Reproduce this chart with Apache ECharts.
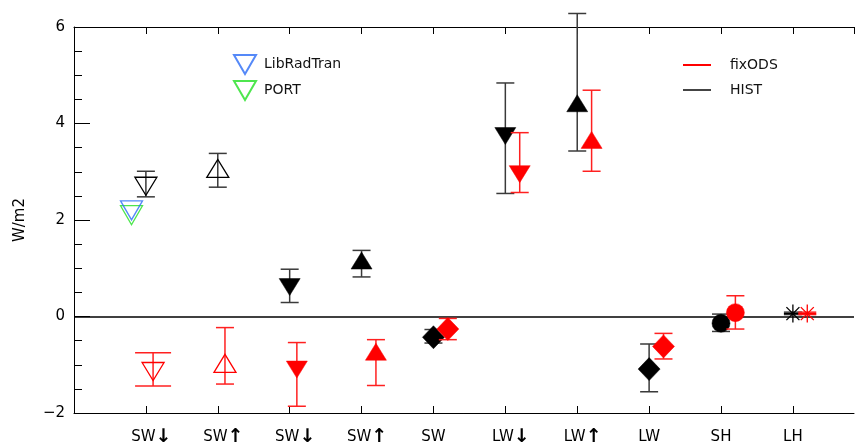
<!DOCTYPE html>
<html>
<head>
<meta charset="utf-8">
<script src="https://cdn.jsdelivr.net/npm/echarts@6/dist/echarts.min.js"></script>
<style>
  html, body { margin: 0; padding: 0; background: #fff; }
  #chart { width: 855px; height: 445px; }
</style>
</head>
<body>
<div id="chart"></div>
<script>
// x categories (placed at x = 1..10)
const catNames = ['SW', 'SW', 'SW', 'SW', 'SW', 'LW', 'LW', 'LW', 'SH', 'LH'];
const catArrows = ['dn', 'up', 'dn', 'up', '', 'dn', 'up', '', '', ''];

// HIST values and error bar ends
const histVal  = [2.70, 3.07, 0.61, 1.16, -0.43, 3.74, 4.42, -1.09, -0.14, 0.06];
const histLow  = [2.48, 2.68, 0.29, 0.82, -0.55, 2.55, 3.43, -1.56, -0.31, 0.04];
const histHigh = [3.01, 3.38, 0.98, 1.37, -0.27, 4.84, 6.28, -0.57, 0.05, 0.09];

// fixODS values and error bar ends
const fixVal  = [-1.14, -0.97, -1.10, -0.73, -0.26, 2.95, 3.66, -0.62, 0.08, 0.06];
const fixLow  = [-1.44, -1.40, -1.86, -1.43, -0.48, 2.57, 3.01, -0.88, -0.26, 0.04];
const fixHigh = [-0.75, -0.23, -0.54, -0.48, -0.04, 3.81, 4.69, -0.35, 0.43, 0.09];

// single points for the two radiative transfer codes
const libRadTran = [[0.8, 2.2]];
const port = [[0.8, 2.1]];

// marker shape for each category
const markers = ['tdo', 'tuo', 'td', 'tu', 'dia', 'td', 'tu', 'dia', 'cir', 'ast'];

const FONT = 'DejaVu Sans';

function marker(kind, x, y, color) {
  const filled = { fill: color, stroke: color, lineWidth: 0.5 };
  const open = { fill: 'none', stroke: color, lineWidth: 1.3 };
  switch (kind) {
    case 'tdo':
      return { type: 'polygon', shape: { points: [[x - 11, y - 9], [x + 11, y - 9], [x, y + 9]] }, style: open };
    case 'tuo':
      return { type: 'polygon', shape: { points: [[x - 11, y + 9], [x + 11, y + 9], [x, y - 9]] }, style: open };
    case 'td':
      return { type: 'polygon', shape: { points: [[x - 10.5, y - 8.5], [x + 10.5, y - 8.5], [x, y + 8.5]] }, style: filled };
    case 'tu':
      return { type: 'polygon', shape: { points: [[x - 10.5, y + 8.5], [x + 10.5, y + 8.5], [x, y - 8.5]] }, style: filled };
    case 'dia':
      return { type: 'polygon', shape: { points: [[x, y - 11.5], [x + 11, y], [x, y + 11.5], [x - 11, y]] }, style: filled };
    case 'cir':
      return { type: 'circle', shape: { cx: x, cy: y, r: 9 }, style: filled };
    default: {
      // asterisk
      const r = 9, d = 6.5;
      const st = { stroke: color, lineWidth: 1.3 };
      return {
        type: 'group',
        children: [
          { type: 'line', shape: { x1: x - r, y1: y, x2: x + r, y2: y }, style: st },
          { type: 'line', shape: { x1: x, y1: y - r, x2: x, y2: y + r }, style: st },
          { type: 'line', shape: { x1: x - d, y1: y - d, x2: x + d, y2: y + d }, style: st },
          { type: 'line', shape: { x1: x - d, y1: y + d, x2: x + d, y2: y - d }, style: st }
        ]
      };
    }
  }
}

function makeRender(color, barColor, shiftOf, capOf) {
  return function (params, api) {
    const i = params.dataIndex;
    const x = api.value(0) + shiftOf(i);
    const p = api.coord([x, api.value(1)]);
    const a = api.coord([x, api.value(3)]);
    const b = api.coord([x, api.value(2)]);
    const hw = capOf(i);
    const st = { stroke: barColor, lineWidth: 1.5 };
    return {
      type: 'group',
      children: [
        { type: 'line', shape: { x1: a[0], y1: a[1], x2: b[0], y2: b[1] }, style: st },
        { type: 'line', shape: { x1: a[0] - hw, y1: a[1], x2: a[0] + hw, y2: a[1] }, style: st },
        { type: 'line', shape: { x1: b[0] - hw, y1: b[1], x2: b[0] + hw, y2: b[1] }, style: st },
        marker(markers[i], p[0], p[1], color)
      ]
    };
  };
}

const histData = histVal.map((v, i) => [i + 1, v, histLow[i], histHigh[i]]);
const fixData = fixVal.map((v, i) => [i + 1, v, fixLow[i], fixHigh[i]]);

function xLabel(v) {
  const i = Math.round(v) - 1;
  if (i < 0 || i > 9 || Math.abs(v - Math.round(v)) > 1e-6) return '';
  const a = catArrows[i];
  if (!a) return '{t|' + catNames[i] + '}';
  return '{sp|}{t|' + catNames[i] + '}{' + a + '|' + (a === 'dn' ? '\u2193' : '\u2191') + '}';
}

const xAxisBase = {
  type: 'value',
  min: 0,
  max: 10.85,
  interval: 1,
  splitLine: { show: false },
  axisLine: { show: true, onZero: false, lineStyle: { color: '#000', width: 1 } },
  axisTick: { show: true, inside: true, length: 7, lineStyle: { color: '#000', width: 1 } }
};

const chart = echarts.init(document.getElementById('chart'));
chart.setOption({
  animation: false,
  backgroundColor: '#fff',
  grid: { left: 74, right: 1, top: 27, bottom: 32, outerBoundsMode: 'none', containLabel: false },
  legend: [
    {
      data: ['LibRadTran', 'PORT'],
      orient: 'vertical',
      left: 228,
      top: 49,
      itemWidth: 22,
      itemHeight: 19,
      itemGap: 5,
      textStyle: { fontFamily: FONT, fontSize: 14, color: '#111', padding: [0, 0, 0, 3] },
      selectedMode: false
    },
    {
      data: ['fixODS', 'HIST'],
      orient: 'vertical',
      left: 678,
      top: 53,
      icon: 'rect',
      itemWidth: 28,
      itemHeight: 2,
      itemGap: 11,
      textStyle: { fontFamily: FONT, fontSize: 14, color: '#111', padding: [0, 0, 0, 14] },
      selectedMode: false
    }
  ],
  xAxis: [
    Object.assign({}, xAxisBase, {
      position: 'bottom',
      axisLabel: {
        show: true,
        margin: 13,
        formatter: xLabel,
        showMaxLabel: false,
        rich: {
          t: { fontFamily: FONT, fontSize: 15, color: '#000', lineHeight: 22 },
          sp: { width: 11, lineHeight: 22 },
          dn: { fontFamily: FONT, fontSize: 19, fontWeight: 'bold', color: '#000', lineHeight: 22 },
          up: { fontFamily: FONT, fontSize: 19, fontWeight: 'bold', color: '#000', lineHeight: 22 }
        }
      }
    }),
    Object.assign({}, xAxisBase, {
      position: 'top',
      axisLabel: { show: false }
    })
  ],
  yAxis: {
    type: 'value',
    min: -2,
    max: 6,
    interval: 2,
    name: 'W/m2',
    nameLocation: 'middle',
    nameGap: 46,
    nameTextStyle: { fontFamily: FONT, fontSize: 15, color: '#000', padding: [0, 0, 0, 0] },
    splitLine: { show: false },
    axisLine: { show: true, onZero: false, lineStyle: { color: '#000', width: 1 } },
    axisTick: { show: true, inside: true, length: 16, lineStyle: { color: '#000', width: 1 } },
    minorTick: { show: true, splitNumber: 4, length: 8, lineStyle: { color: '#000', width: 1 } },
    axisLabel: {
      fontFamily: FONT, fontSize: 15, color: '#000', margin: 9,
      formatter: v => (v < 0 ? '\u2212' + (-v) : String(v))
    }
  },
  series: [
    {
      name: 'LibRadTran',
      type: 'scatter',
      z: 3,
      data: libRadTran,
      symbol: 'path://M0,0L22,0L11,19Z',
      symbolSize: [22, 19],
      itemStyle: { color: 'rgba(0,0,0,0)', borderColor: '#2a6cf6', borderWidth: 1.3 },
      markLine: {
        silent: true,
        symbol: 'none',
        label: { show: false },
        lineStyle: { color: '#000', width: 1.5, type: 'solid' },
        data: [{ yAxis: 0 }]
      }
    },
    {
      name: 'PORT',
      type: 'scatter',
      z: 2,
      data: port,
      symbol: 'path://M0,0L22,0L11,19Z',
      symbolSize: [22, 19],
      itemStyle: { color: 'rgba(0,0,0,0)', borderColor: '#22e022', borderWidth: 1.3 }
    },
    {
      name: 'HIST',
      type: 'custom',
      z: 4,
      itemStyle: { color: '#444' },
      encode: { x: 0, y: 1 },
      data: histData,
      renderItem: makeRender('#000', '#3a3a3a', () => 0, () => 9)
    },
    {
      name: 'fixODS',
      type: 'custom',
      z: 5,
      itemStyle: { color: '#ff0000' },
      encode: { x: 0, y: 1 },
      data: fixData,
      renderItem: makeRender('#ff0000', '#ff2020', i => (i < 3 ? 0.1 : 0.2), i => (i === 0 ? 18 : 9))
    }
  ]
});
</script>
</body>
</html>
